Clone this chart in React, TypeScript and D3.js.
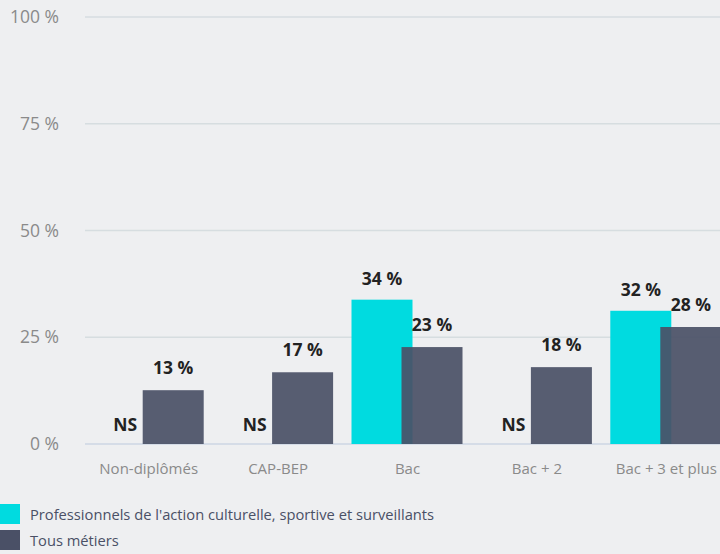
import React, { useEffect, useRef } from "react";
import * as d3 from "d3";

const categories = ["Non-diplômés", "CAP-BEP", "Bac", "Bac + 2", "Bac + 3 et plus"];
const metierValues: (number | null)[] = [null, null, 33.8, null, 31.2];
const metierLabels = ["NS", "NS", "34 %", "NS", "32 %"];
const tousValues = [12.6, 16.8, 22.7, 18.0, 27.4];
const tousLabels = ["13 %", "17 %", "23 %", "18 %", "28 %"];
const yTicks = [0, 25, 50, 75, 100];
const seriesNames = [
  "Professionnels de l'action culturelle, sportive et surveillants",
  "Tous métiers",
];

const CYAN = "#00dbe0";
const DARK = "#4a5066";
const FONT = "'Open Sans', 'Noto Sans', sans-serif";

const App: React.FC = () => {
  const svgRef = useRef<SVGSVGElement>(null);

  useEffect(() => {
    if (!svgRef.current) return;
    const width = 720;
    const height = 554;
    const margin = { top: 17, right: -11, bottom: 110, left: 84 };

    d3.select(svgRef.current).selectAll("*").remove();
    const svg = d3.select(svgRef.current).attr("width", width).attr("height", height);

    svg.append("rect").attr("width", width).attr("height", height).attr("fill", "#eeeff1");

    const x = d3
      .scaleBand()
      .domain(categories)
      .range([margin.left, width - margin.right]);

    const y = d3
      .scaleLinear()
      .domain([0, 100])
      .range([height - margin.bottom, margin.top]);

    // gridlines
    svg
      .append("g")
      .selectAll("line")
      .data(yTicks)
      .join("line")
      .attr("x1", margin.left + 1)
      .attr("x2", width)
      .attr("y1", (d) => y(d))
      .attr("y2", (d) => y(d))
      .attr("stroke", (d) => (d === 0 ? "#cdd6e3" : "#d6dde0"))
      .attr("stroke-width", 1.5);

    svg
      .append("g")
      .selectAll("text")
      .data(yTicks)
      .join("text")
      .attr("x", 59)
      .attr("y", (d) => y(d) + 6)
      .attr("text-anchor", "end")
      .attr("font-family", FONT)
      .attr("font-size", 17.5)
      .attr("fill", "#8a8a8a")
      .text((d) => `${d} %`);

    const bw = 61;
    const cyanX = (c: string) => x(c)! + x.bandwidth() / 2 - 56;
    const darkX = (c: string) => x(c)! + x.bandwidth() / 2 - 6;

    const valueLabel = (g: d3.Selection<SVGGElement, unknown, null, undefined>, cx: number, cy: number, t: string) =>
      g
        .append("text")
        .attr("x", cx)
        .attr("y", cy)
        .attr("text-anchor", "middle")
        .attr("font-family", FONT)
        .attr("font-weight", "bold")
        .attr("font-size", 17.5)
        .attr("fill", "#222")
        .text(t);

    // series 1
    const g1 = svg.append("g");
    categories.forEach((c, i) => {
      const v = metierValues[i];
      if (v == null) {
        valueLabel(g1, cyanX(c) + bw / 2 + 2, y(0) - 13, metierLabels[i]);
        return;
      }
      g1.append("rect")
        .attr("x", cyanX(c))
        .attr("y", y(v))
        .attr("width", bw)
        .attr("height", y(0) - y(v))
        .attr("fill", CYAN);
      valueLabel(g1, cyanX(c) + bw / 2, y(v) - 15, metierLabels[i]);
    });

    // series 2
    const g2 = svg.append("g");
    categories.forEach((c, i) => {
      const v = tousValues[i];
      g2.append("rect")
        .attr("x", darkX(c))
        .attr("y", y(v))
        .attr("width", bw)
        .attr("height", y(0) - y(v))
        .attr("fill", DARK)
        .attr("fill-opacity", 0.92);
      valueLabel(g2, darkX(c) + bw / 2, y(v) - 16, tousLabels[i]);
    });

    // x labels
    svg
      .append("g")
      .selectAll("text")
      .data(categories)
      .join("text")
      .attr("x", (d) => x(d)! + x.bandwidth() / 2)
      .attr("y", y(0) + 30)
      .attr("text-anchor", "middle")
      .attr("font-family", FONT)
      .attr("font-size", 15)
      .attr("fill", "#8a8a8a")
      .text((d) => d);

    // legend
    const legend = svg.append("g");
    seriesNames.forEach((name, i) => {
      legend
        .append("rect")
        .attr("x", 0)
        .attr("y", 504 + i * 26)
        .attr("width", 20)
        .attr("height", 20)
        .attr("fill", i === 0 ? CYAN : DARK);
      legend
        .append("text")
        .attr("x", 30)
        .attr("y", 520 + i * 26)
        .attr("font-family", FONT)
        .attr("font-size", 14.7)
        .attr("fill", "#4a5066")
        .text(name);
    });
  }, []);

  return <svg ref={svgRef} style={{ position: "absolute", left: 0, top: 0 }} />;
};

export default App;
